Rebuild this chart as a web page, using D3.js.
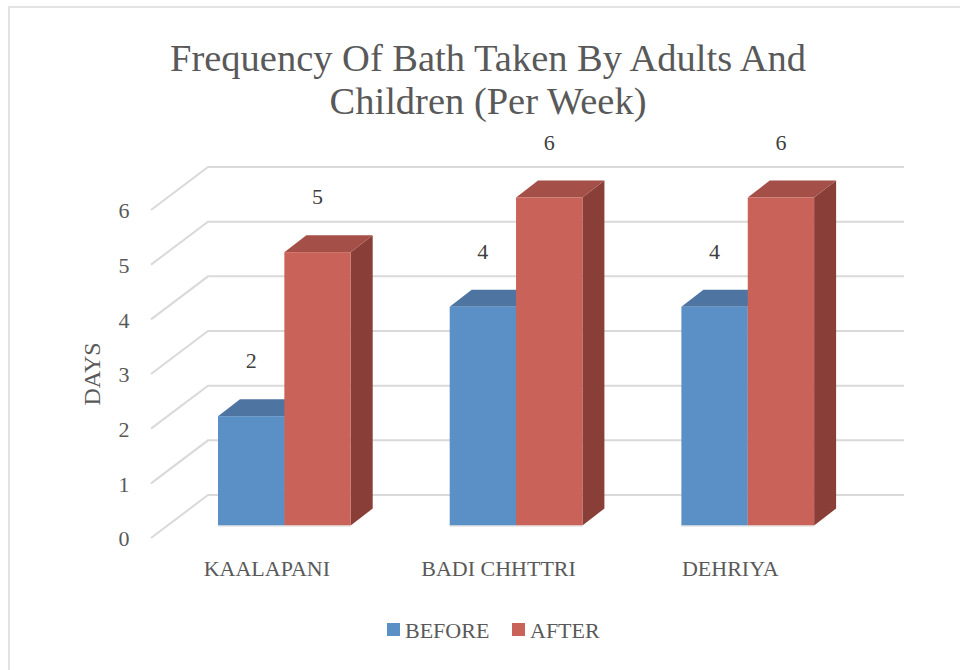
<!DOCTYPE html>
<html>
<head>
<meta charset="utf-8">
<script src="https://cdn.jsdelivr.net/npm/d3@7"></script>
<style>
  html, body { margin: 0; padding: 0; background: #fff; }
  svg { display: block; }
  text { font-family: "Liberation Serif", serif; fill: #595959; }
</style>
</head>
<body>
<svg id="chart"></svg>
<script>
const categories = ['KAALAPANI', 'BADI CHHTTRI', 'DEHRIYA'];
const seriesNames = ['BEFORE', 'AFTER'];
const before = [2, 4, 4];
const after = [5, 6, 6];
const yTicks = [0, 1, 2, 3, 4, 5, 6];
const titleLines = ['Frequency Of Bath Taken By Adults And', 'Children (Per Week)'];

const width = 960, height = 670;
const colors = {
  BEFORE: { front: '#5b90c6', top: '#4e74a1', side: '#466a93' },
  AFTER: { front: '#c9635a', top: '#a44f47', side: '#893f38' }
};

const svg = d3.select('#chart').attr('width', width).attr('height', height);

// chart border, runs off the right and bottom of the picture
svg.append('path')
  .attr('d', d3.line()([[9, height], [9, 7], [width, 7]]))
  .attr('fill', 'none')
  .attr('stroke', '#e2e2e2')
  .attr('stroke-width', 2);

// the y scale is for the front edge of the floor, walls and bars are shifted back from it
const y = d3.scaleLinear().domain([0, 6]).range([538, 210]);
const wall = { dx: 57, dy: -43 };
const barPos = { dx: 17.5, dy: -12.5 };
const depth = { dx: 22, dy: -17 };

const x0 = d3.scaleBand()
  .domain(categories)
  .range([168.5, 863.6])
  .paddingInner(0.4272)
  .paddingOuter(0.2136);

const x1 = d3.scaleBand()
  .domain(seriesNames)
  .range([0, x0.bandwidth()]);

// gridlines
const grid = svg.append('g').attr('fill', 'none').attr('stroke', '#d9d9d9').attr('stroke-width', 2);
grid.selectAll('path')
  .data(yTicks)
  .enter().append('path')
  .attr('d', d => d3.line()([
    [151, y(d)],
    [151 + wall.dx, y(d) + wall.dy],
    [904, y(d) + wall.dy]
  ]));

// y axis labels
const axis = svg.append('g')
  .attr('transform', 'translate(131,0)')
  .call(d3.axisLeft(y).tickValues(yTicks).tickSize(0).tickPadding(0).tickFormat(d3.format('d')));
axis.select('.domain').remove();
axis.selectAll('text')
  .attr('text-anchor', 'middle')
  .attr('x', -7)
  .attr('dy', '0.36em')
  .style('font-size', '22px')
  .style('font-family', '"Liberation Serif", serif');

svg.append('text')
  .attr('transform', 'translate(100,374) rotate(-90)')
  .attr('text-anchor', 'middle')
  .style('font-size', '24px')
  .text('DAYS');

const rows = categories.map((c, i) => ({ category: c, BEFORE: before[i], AFTER: after[i] }));

const groups = svg.append('g')
  .selectAll('g')
  .data(rows)
  .enter().append('g')
  .attr('transform', d => `translate(${x0(d.category)},0)`);

const bars = groups.selectAll('g')
  .data(d => seriesNames.map(key => ({ key, value: d[key] })))
  .enter().append('g');

const bw = x1.bandwidth();
const barTop = d => y(d.value) + barPos.dy;
const barBottom = y(0) + barPos.dy;

// bar sides first so the next bar's front face covers them
bars.append('path')
  .attr('fill', d => colors[d.key].side)
  .attr('d', d => {
    const r = x1(d.key) + bw;
    return d3.line()([[r, barTop(d)], [r + depth.dx, barTop(d) + depth.dy], [r + depth.dx, barBottom + depth.dy], [r, barBottom]]) + 'Z';
  });

bars.append('path')
  .attr('fill', d => colors[d.key].top)
  .attr('d', d => {
    const l = x1(d.key);
    return d3.line()([[l, barTop(d)], [l + depth.dx, barTop(d) + depth.dy], [l + bw + depth.dx, barTop(d) + depth.dy], [l + bw, barTop(d)]]) + 'Z';
  });

bars.append('rect')
  .attr('x', d => x1(d.key))
  .attr('y', d => barTop(d))
  .attr('width', bw)
  .attr('height', d => barBottom - barTop(d))
  .attr('fill', d => colors[d.key].front);

// thin shadow under the bars
groups.append('line')
  .attr('x1', 0)
  .attr('x2', x0.bandwidth())
  .attr('y1', barBottom + 0.5)
  .attr('y2', barBottom + 0.5)
  .attr('stroke', '#d9d9d9')
  .attr('stroke-width', 1);

// data labels
bars.append('text')
  .attr('x', d => x1(d.key) + bw / 2)
  .attr('y', d => barTop(d) - 48)
  .attr('text-anchor', 'middle')
  .style('font-size', '22px')
  .style('fill', '#404040')
  .text(d => d.value);

// category labels
svg.append('g')
  .selectAll('text')
  .data(categories)
  .enter().append('text')
  .attr('x', d => x0(d) + x0.bandwidth() / 2 - barPos.dx)
  .attr('y', 576)
  .attr('text-anchor', 'middle')
  .style('font-size', '22px')
  .text(d => d);

// title
svg.append('g')
  .selectAll('text')
  .data(titleLines)
  .enter().append('text')
  .attr('x', 488)
  .attr('y', (d, i) => 70.5 + i * 43)
  .attr('text-anchor', 'middle')
  .style('font-size', '38.5px')
  .text(d => d);

// legend
const legendX = d3.scaleOrdinal().domain(seriesNames).range([387, 512]);
const legend = svg.append('g')
  .selectAll('g')
  .data(seriesNames)
  .enter().append('g')
  .attr('transform', d => `translate(${legendX(d)},623)`);
legend.append('rect')
  .attr('width', 13)
  .attr('height', 13)
  .attr('fill', d => colors[d].front);
legend.append('text')
  .attr('x', 18)
  .attr('y', 15)
  .style('font-size', '22px')
  .text(d => d);
</script>
</body>
</html>
